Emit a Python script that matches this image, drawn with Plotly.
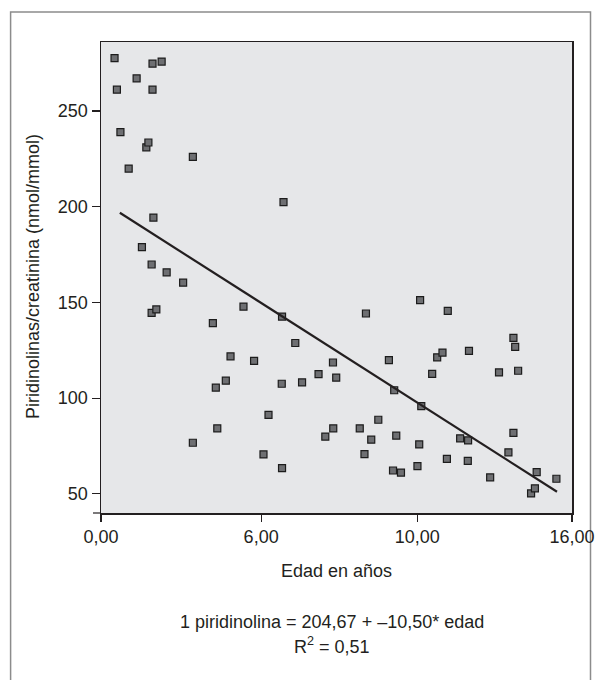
import plotly.graph_objects as go

# Data (x in axis units 0..16, y in nmol/mmol)
edad = [0.46, 0.54, 0.66, 0.94, 1.21, 1.39, 1.54, 1.61, 1.72, 1.72, 1.75, 1.75, 1.78, 1.88,
        2.06, 2.23, 2.79, 3.12, 3.12, 3.80, 3.90, 3.95, 4.24, 4.40, 4.84, 5.20, 5.52, 5.69,
        6.14, 6.15, 6.15, 6.20, 6.60, 6.83, 7.39, 7.62, 7.88, 7.89, 7.99, 8.79, 8.95, 9.00,
        9.18, 9.42, 9.78, 9.92, 9.96, 10.03, 10.19, 10.75, 10.81, 10.84, 10.88, 11.25, 11.42,
        11.60, 11.75, 11.78, 12.20, 12.47, 12.46, 12.50, 13.22, 13.52, 13.84, 14.01, 14.01,
        14.07, 14.17, 14.61, 14.74, 14.80, 15.47]
piridinolina = [277.6, 261.1, 238.9, 219.9, 267.0, 178.9, 231.0, 233.5, 169.8, 144.5, 274.7,
                261.1, 194.3, 146.3, 275.8, 165.7, 160.3, 226.0, 76.7, 139.2, 105.5, 84.2,
                109.1, 121.8, 147.8, 119.5, 70.6, 91.2, 107.5, 63.4, 142.6, 202.4, 128.8,
                108.2, 112.5, 79.9, 118.6, 84.2, 110.7, 84.2, 70.8, 144.2, 78.3, 88.7, 119.8,
                62.2, 104.1, 80.4, 61.1, 64.5, 75.8, 151.2, 95.8, 112.7, 121.3, 123.8, 68.3,
                145.6, 79.0, 77.9, 67.2, 124.7, 58.6, 113.4, 71.7, 131.5, 81.9, 126.8, 114.3,
                50.2, 52.9, 61.3, 57.9]

# Fitted line end points as drawn in the reference
fit_x = [0.64, 15.49]
fit_y = [196.8, 51.1]

x_tickvals = [0, 5.44, 10.74, 16]
x_ticktext = ["0,00", "6,00", "10,00", "16,00"]
y_tickvals = [50, 100, 150, 200, 250]
y_ticktext = ["50", "100", "150", "200", "250"]

x_title = "Edad en años"
y_title = "Piridinolinas/creatinina (nmol/mmol)"
eq_text = "1 piridinolina = 204,67 + –10,50* edad"
r2_text = "R<sup>2</sup> = 0,51"

TXT = "#231f20"
FONT = "Liberation Sans, Arial, sans-serif"
FS = 18

fig = go.Figure()
fig.add_trace(go.Scatter(
    x=edad, y=piridinolina, mode="markers",
    marker=dict(symbol="square", size=7, color="#6e6f72",
                line=dict(color="#1c1c1c", width=1.2)),
    showlegend=False, hoverinfo="x+y"))
fig.add_trace(go.Scatter(
    x=fit_x, y=fit_y, mode="lines",
    line=dict(color=TXT, width=2.2), showlegend=False))

W, H = 595, 680
L, R, T, B = 101, 23, 42, 167
pw, ph = W - L - R, H - T - B

def px(xp):
    return (xp - L) / pw

def py(yp):
    return (H - B - yp) / ph

fig.update_layout(
    width=W, height=H,
    margin=dict(l=L, r=R, t=T, b=B, pad=0, autoexpand=False),
    paper_bgcolor="white", plot_bgcolor="#e6e7e9",
    font=dict(family=FONT, size=FS, color=TXT),
    xaxis=dict(range=[0, 16], tickvals=x_tickvals, ticktext=x_ticktext,
               automargin=False,
               showgrid=False, zeroline=False, showline=True, mirror=True,
               linecolor=TXT, linewidth=1.5, ticks="outside", ticklen=7,
               tickcolor=TXT, tickwidth=1.2, tickfont=dict(size=FS, color=TXT)),
    yaxis=dict(range=[40, 286], tickvals=y_tickvals, ticktext=y_ticktext,
               automargin=False,
               showgrid=False, zeroline=False, showline=True, mirror=True,
               linecolor=TXT, linewidth=1.5, ticks="outside", ticklen=8,
               tickcolor=TXT, tickwidth=1.2, tickfont=dict(size=FS, color=TXT)),
    shapes=[
        dict(type="rect", xref="paper", yref="paper",
             x0=px(10.6), x1=px(590.5), y0=py(700), y1=py(12),
             line=dict(color="#8c8c8c", width=1.5), fillcolor="rgba(0,0,0,0)",
             layer="below"),
        dict(type="line", xref="paper", yref="paper",
             x0=px(93), x1=0, y0=0, y1=0,
             line=dict(color=TXT, width=1.2)),
    ],
    annotations=[
        dict(text=x_title, xref="paper", yref="paper", x=px(336), y=py(571),
             showarrow=False, xanchor="center", yanchor="middle", font=dict(size=FS)),
        dict(text=y_title, xref="paper", yref="paper", x=px(33), y=py(277),
             showarrow=False, xanchor="center", yanchor="middle", textangle=-90,
             font=dict(size=FS)),
        dict(text=eq_text, xref="paper", yref="paper", x=px(332), y=py(622.3),
             showarrow=False, xanchor="center", yanchor="middle", font=dict(size=FS)),
        dict(text=r2_text, xref="paper", yref="paper", x=px(332), y=py(645),
             showarrow=False, xanchor="center", yanchor="middle", font=dict(size=FS)),
    ],
)

fig.write_html("out.html", config={"staticPlot": True},
               post_script="document.body.style.margin='0px';document.body.style.overflow='hidden';")
